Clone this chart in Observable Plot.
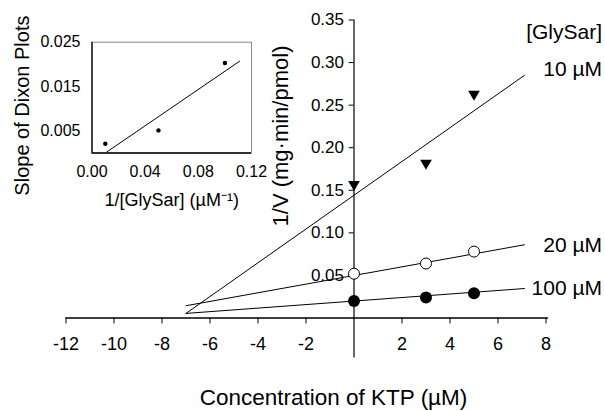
<!DOCTYPE html>
<html><head><meta charset="utf-8">
<script src="https://cdn.jsdelivr.net/npm/d3@7"></script>
<script src="https://cdn.jsdelivr.net/npm/@observablehq/plot@0.6"></script>
<style>
body{margin:0;background:#fff;}
#wrap{position:relative;width:605px;height:411px;}
#wrap svg{position:absolute;left:0;top:0;overflow:visible;}
</style></head><body><div id="wrap"></div>
<script>
// Main Dixon plot data
const ktp = [0, 3, 5];
const v10 = [0.155, 0.180, 0.261];
const v20 = [0.052, 0.064, 0.078];
const v100 = [0.020, 0.024, 0.029];
const fitX = [-7, 7.1];
const fit10 = [0.0054, 0.285];
const fit20 = [0.0144, 0.086];
const fit100 = [0.0054, 0.0346];
const seriesLabels = ["10 µM", "20 µM", "100 µM"];
const xTicks = [-12, -10, -8, -6, -4, -2, 2, 4, 6, 8];
const yTicks = [0.05, 0.10, 0.15, 0.20, 0.25, 0.30, 0.35];
// Inset (replot of slopes)
const insetX = [0.01, 0.05, 0.10];
const insetY = [0.0021, 0.0051, 0.0203];
const insetFitX = [0.011, 0.111];
const insetFitY = [0.0002, 0.0207];
const insetXTicks = [0, 0.04, 0.08, 0.12];
const insetYTicks = [0.005, 0.015, 0.025];

const font = "'Liberation Sans', Arial, Helvetica, sans-serif";
const pts = (xs, ys) => xs.map((x, i) => ({x, y: ys[i]}));
const triDown = {
  draw(ctx, size) {
    const w = Math.sqrt(size) * 1.2, h = w * 0.85;
    ctx.moveTo(-w / 2, -h / 2);
    ctx.lineTo(w / 2, -h / 2);
    ctx.lineTo(0, h / 2);
    ctx.closePath();
  }
};

const main = Plot.plot({
  width: 605, height: 411,
  marginLeft: 65.5, marginRight: 59.5, marginTop: 19.5, marginBottom: 93.5,
  style: {fontFamily: font, background: "transparent", color: "#000"},
  x: {domain: [-12, 8], axis: null},
  y: {domain: [0, 0.35], axis: null},
  marks: [
    Plot.ruleX([0], {y1: -0.047, y2: 0.35, stroke: "#000", strokeWidth: 1.2}),
    Plot.ruleY([0], {x1: -12, x2: 8.1, stroke: "#000", strokeWidth: 1.4}),
    Plot.axisX({ticks: xTicks, tickSize: 6, tickPadding: 13, fontSize: 18, label: null, tickFormat: d => String(d)}),
    Plot.ruleY(yTicks, {x1: -0.2, x2: 0, stroke: "#000"}),
    Plot.text(yTicks, {x: 0, y: d => d, text: d => d.toFixed(2), textAnchor: "end", dx: -10, fontSize: 17}),
    Plot.line(pts(fitX, fit10), {x: "x", y: "y", stroke: "#000", strokeWidth: 1}),
    Plot.line(pts(fitX, fit20), {x: "x", y: "y", stroke: "#000", strokeWidth: 1}),
    Plot.line(pts(fitX, fit100), {x: "x", y: "y", stroke: "#000", strokeWidth: 1}),
    Plot.dot(pts(ktp, v10), {x: "x", y: "y", symbol: triDown, r: 5.5, fill: "#000", stroke: "none"}),
    Plot.dot(pts(ktp, v20), {x: "x", y: "y", r: 5.5, fill: "#fff", stroke: "#000", strokeWidth: 1}),
    Plot.dot(pts(ktp, v100), {x: "x", y: "y", r: 6, fill: "#000", stroke: "none"}),
    Plot.text([seriesLabels[0]], {x: 8, y: fit10[1], dx: 56, dy: -6, textAnchor: "end", fontSize: 21}),
    Plot.text([seriesLabels[1], seriesLabels[2]], {x: 8, y: (d, i) => [fit20[1], fit100[1]][i], dx: 56, textAnchor: "end", fontSize: 21}),
    Plot.text(["[GlySar]"], {frameAnchor: "top-right", dx: 56, dy: 12, textAnchor: "end", lineAnchor: "middle", fontSize: 21}),
    Plot.text(["1/V (mg·min/pmol)"], {frameAnchor: "top-left", dx: 215, dy: 116, rotate: -90, textAnchor: "middle", lineAnchor: "middle", fontSize: 22}),
    Plot.text(["Concentration of KTP (µM)"], {frameAnchor: "bottom", dx: 27.5, dy: 79.5, lineAnchor: "middle", fontSize: 22.5})
  ]
});

const inset = Plot.plot({
  width: 270, height: 210,
  marginLeft: 91.5, marginRight: 19, marginTop: 41.7, marginBottom: 57.5,
  style: {fontFamily: font, background: "transparent", color: "#000"},
  x: {domain: [0, 0.12], axis: null},
  y: {domain: [0, 0.025], axis: null},
  marks: [
    Plot.frame({stroke: "#888", strokeWidth: 1}),
    Plot.ruleX([0], {stroke: "#000", strokeWidth: 1.3}),
    Plot.ruleY([0], {stroke: "#000", strokeWidth: 1.3}),
    Plot.axisY({ticks: insetYTicks, tickSize: 0, tickPadding: 11.5, fontSize: 16, label: null, tickFormat: d => d.toFixed(3)}),
    Plot.axisX({ticks: insetXTicks, tickSize: 0, tickPadding: 13, fontSize: 16, label: null, tickFormat: d => d.toFixed(2)}),
    Plot.line(pts(insetFitX, insetFitY), {x: "x", y: "y", stroke: "#000", strokeWidth: 1}),
    Plot.dot(pts(insetX, insetY), {x: "x", y: "y", r: 2.2, fill: "#000", stroke: "none"}),
    Plot.text(["Slope of Dixon Plots"], {frameAnchor: "left", dx: -69.5, dy: 8, rotate: -90, textAnchor: "middle", lineAnchor: "middle", fontSize: 20}),
    Plot.text(["1/[GlySar] (µM⁻¹)"], {frameAnchor: "bottom", dy: 47.5, lineAnchor: "middle", fontSize: 18})
  ]
});

const wrap = document.getElementById("wrap");
wrap.appendChild(main);
wrap.appendChild(inset);
</script>
</body></html>
